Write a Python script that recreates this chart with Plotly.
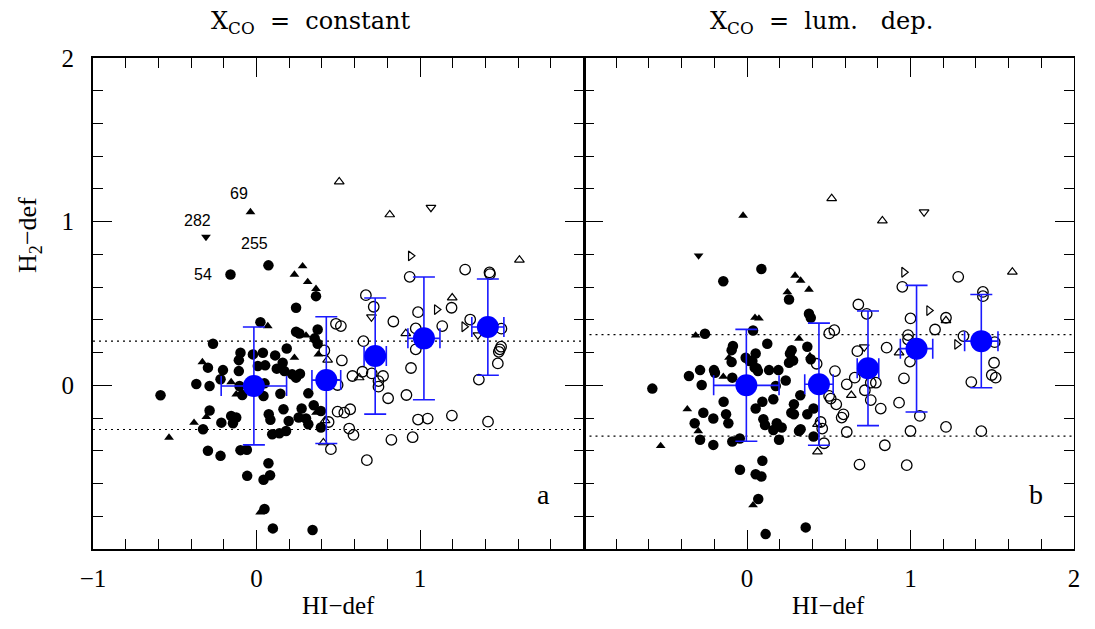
import plotly.graph_objects as go

# ---------------- Panel a : X_CO = constant ----------------
a_fc_x = [0.073,-0.159,0.364,0.242,0.024,0.242,0.262,0.374,0.356,0.374,-0.266,-0.098,-0.022,0.039,0.114,0.185,-0.108,0.008,0.053,0.16,0.124,0.171,-0.297,-0.205,-0.108,0.218,0.242,0.266,0.242,-0.22,-0.368,-0.287,-0.104,0.049,0.043,-0.087,0.146,0.317,-0.587,-0.287,0.165,0.276,0.35,0.394,0.075,-0.155,-0.124,0.085,-0.215,-0.144,0.197,0.258,0.303,0.317,-0.327,0.394,0.096,0.14,0.181,-0.297,-0.22,-0.098,-0.059,0.073,-0.057,0.043,0.083,0.049,0.1,0.343]
a_fc_y = [0.733,0.677,0.545,0.474,0.386,0.327,0.317,0.341,0.287,0.254,0.254,0.199,0.189,0.199,0.183,0.225,0.154,0.118,0.122,0.138,0.102,0.087,0.108,0.093,0.087,0.067,0.053,0.071,0.047,0.037,0.008,-0.004,-0.004,0.012,-0.065,-0.059,-0.051,-0.049,-0.061,-0.154,-0.146,-0.142,-0.122,-0.157,-0.177,-0.187,-0.197,-0.211,-0.228,-0.232,-0.218,-0.197,-0.203,-0.238,-0.268,-0.258,-0.299,-0.293,-0.279,-0.400,-0.431,-0.396,-0.394,-0.476,-0.553,-0.577,-0.549,-0.756,-0.874,-0.884]
a_ftu_x = [0.282,0.232,0.313,0.364,0.069,0.303,0.378,0.232,-0.331,-0.155,-0.124,-0.382,-0.307,0.364,-0.535,0.022,-0.037]
a_ftu_y = [0.728,0.677,0.632,0.590,0.362,0.305,0.189,0.169,0.142,0.020,-0.055,-0.228,-0.193,-0.167,-0.319,-0.776,1.059]
a_ftd_x = [-0.309]
a_ftd_y = [0.907]
a_oc_x = [1.276,1.425,1.428,0.937,0.669,0.717,1.193,0.988,0.837,0.486,0.516,1.307,1.136,0.974,1.498,0.654,0.974,1.496,1.488,1.482,0.415,0.522,1.476,0.945,0.648,0.587,0.705,0.774,1.360,0.746,0.746,0.496,0.805,0.917,0.496,0.537,0.573,0.988,1.047,1.195,1.416,0.441,0.567,0.593,0.825,0.955,0.675,0.455]
a_oc_y = [0.707,0.690,0.680,0.663,0.551,0.480,0.474,0.447,0.390,0.376,0.362,0.402,0.362,0.348,0.346,0.270,0.220,0.236,0.220,0.205,0.213,0.152,0.134,0.106,0.083,0.057,0.073,0.057,0.035,0.026,-0.008,0.002,-0.079,-0.059,-0.161,-0.167,-0.146,-0.209,-0.203,-0.185,-0.222,-0.224,-0.264,-0.303,-0.333,-0.317,-0.457,-0.390]
a_otu_x = [0.506,0.815,1.608,1.197,0.913,0.628,0.435,0.409,0.420]
a_otu_y = [1.244,1.043,0.766,0.535,0.317,0.047,0.155,-0.350,-0.215]
a_otd_x = [1.067,0.703,1.354]
a_otd_y = [1.087,0.417,0.307]
a_otr_x = [0.943,1.102,1.270]
a_otr_y = [0.791,0.463,0.358]
a_mean_x = [-0.016,0.427,0.726,1.024,1.415]
a_mean_y = [-0.004,0.032,0.179,0.287,0.356]
a_mean_xerr = [0.200,0.088,0.068,0.098,0.098]
a_mean_yerr = [0.360,0.387,0.355,0.375,0.294]
a_band = [0.27,-0.27]

# ---------------- Panel b : X_CO = lum. dep. ----------------
b_fc_x = [0.088,-0.145,0.257,0.379,0.390,-0.257,0.037,0.124,0.369,-0.086,-0.094,0.273,0.263,0.257,0.053,-0.008,0.033,0.390,-0.094,-0.287,-0.202,-0.196,0.059,0.135,0.192,-0.355,-0.277,0.237,-0.090,-0.579,0.176,0.326,0.161,0.094,-0.143,0.287,0.053,-0.267,-0.128,0.271,0.287,0.369,0.407,-0.206,-0.320,-0.114,0.100,0.110,0.182,0.212,0.161,0.328,0.318,0.407,-0.287,-0.206,-0.090,0.196,0.094,-0.043,0.053,0.088,0.069,0.359,0.114,0.016,0.047,0.067,0.282,-0.044]
b_fc_y = [0.711,0.636,0.524,0.437,0.413,0.315,0.335,0.254,0.236,0.240,0.215,0.215,0.195,0.138,0.195,0.169,0.148,0.159,0.142,0.093,0.093,0.077,0.104,0.093,0.093,0.057,0.002,0.030,0.047,-0.020,-0.004,-0.061,-0.085,-0.100,-0.100,-0.116,-0.142,-0.167,-0.177,-0.167,-0.177,-0.177,-0.142,-0.203,-0.232,-0.232,-0.207,-0.242,-0.232,-0.258,-0.273,-0.268,-0.279,-0.313,-0.333,-0.364,-0.343,-0.333,-0.461,-0.516,-0.543,-0.557,-0.695,-0.868,-0.909,0.148,0.108,0.087,0.152,-0.325]
b_ftu_x = [0.294,0.328,0.379,0.247,0.049,0.073,-0.314,0.318,-0.110,0.385,-0.145,-0.365,-0.298,-0.528,0.037,-0.024]
b_ftu_y = [0.671,0.640,0.585,0.569,0.413,0.409,0.305,0.285,0.169,0.179,0.053,-0.146,-0.279,-0.370,-0.732,1.037]
b_ftd_x = [-0.296]
b_ftd_y = [0.793]
b_oc_x = [1.292,0.950,1.443,1.443,0.681,0.732,1.217,1.000,1.150,0.534,0.503,0.985,0.985,1.324,1.515,0.854,0.675,0.997,0.538,0.659,1.511,1.497,1.521,1.372,0.960,0.610,0.721,0.757,0.788,0.502,0.512,0.757,0.546,0.930,0.818,0.590,0.579,1.057,0.450,0.460,0.610,1.000,1.217,1.433,0.471,0.843,0.688,0.977,0.426]
b_oc_y = [0.663,0.602,0.571,0.545,0.494,0.437,0.413,0.409,0.341,0.337,0.317,0.307,0.280,0.301,0.264,0.230,0.209,0.145,0.087,0.047,0.138,0.063,0.047,0.020,0.043,0.006,-0.030,0.016,0.016,-0.065,-0.081,-0.090,-0.116,-0.106,-0.142,-0.177,-0.197,-0.187,-0.224,-0.264,-0.285,-0.279,-0.254,-0.280,-0.354,-0.366,-0.484,-0.488,0.132]
b_otu_x = [0.518,0.828,1.623,1.217,0.930,0.638,0.431,0.431]
b_otu_y = [1.142,1.006,0.693,0.396,0.199,-0.061,-0.238,-0.406]
b_otd_x = [1.083,0.717]
b_otd_y = [1.059,0.234]
b_otr_x = [0.960,1.113,1.284]
b_otr_y = [0.691,0.457,0.250]
b_mean_x = [-0.004,0.440,0.740,1.037,1.433]
b_mean_y = [0.000,0.007,0.104,0.224,0.270]
b_mean_xerr = [0.200,0.087,0.066,0.099,0.102]
b_mean_yerr = [0.342,0.373,0.350,0.387,0.285]
b_band = [0.31,-0.31]

# labelled galaxies (panel a)
gal_names = ["69", "282", "255", "54"]
gal_x = [-0.11, -0.36, -0.01, -0.33]
gal_y = [1.17, 1.01, 0.865, 0.677]

a_xtickvals = [-1, 0, 1]
a_xticktext = ["\u22121", "0", "1"]
b_xtickvals = [0, 1, 2]
b_xticktext = ["0", "1", "2"]
y_tickvals = [0, 1, 2]
y_ticktext = ["0", "1", "2"]

SERIF = "Liberation Serif"
fig = go.Figure()

def add_panel(xa, ya, fc, ftu, ftd, oc, otu, otd, otr, mean):
    kw = dict(xaxis=xa, yaxis=ya, mode="markers", showlegend=False, hoverinfo="skip")
    fig.add_trace(go.Scatter(x=fc[0], y=fc[1], marker=dict(symbol="circle", size=10.5, color="black", line=dict(width=0)), **kw))
    fig.add_trace(go.Scatter(x=ftu[0], y=ftu[1], marker=dict(symbol="triangle-up", size=8.5, color="black", line=dict(width=0)), **kw))
    fig.add_trace(go.Scatter(x=ftd[0], y=ftd[1], marker=dict(symbol="triangle-down", size=8.5, color="black", line=dict(width=0)), **kw))
    fig.add_trace(go.Scatter(x=oc[0], y=oc[1], marker=dict(symbol="circle-open", size=10.5, color="black", line=dict(width=1.3)), **kw))
    fig.add_trace(go.Scatter(x=otu[0], y=otu[1], marker=dict(symbol="triangle-up-open", size=8.5, color="black", line=dict(width=1.2)), **kw))
    fig.add_trace(go.Scatter(x=otd[0], y=otd[1], marker=dict(symbol="triangle-down-open", size=8.5, color="black", line=dict(width=1.2)), **kw))
    fig.add_trace(go.Scatter(x=otr[0], y=otr[1], marker=dict(symbol="triangle-right-open", size=8.5, color="black", line=dict(width=1.2)), **kw))
    fig.add_trace(go.Scatter(
        x=mean[0], y=mean[1],
        error_x=dict(type="data", array=mean[2], color="#1a1aff", thickness=1.6, width=10),
        error_y=dict(type="data", array=mean[3], color="#1a1aff", thickness=1.6, width=11),
        marker=dict(symbol="circle", size=22, color="#0000ff", line=dict(width=0)), **kw))

add_panel("x", "y", (a_fc_x, a_fc_y), (a_ftu_x, a_ftu_y), (a_ftd_x, a_ftd_y), (a_oc_x, a_oc_y),
          (a_otu_x, a_otu_y), (a_otd_x, a_otd_y), (a_otr_x, a_otr_y),
          (a_mean_x, a_mean_y, a_mean_xerr, a_mean_yerr))
add_panel("x2", "y2", (b_fc_x, b_fc_y), (b_ftu_x, b_ftu_y), (b_ftd_x, b_ftd_y), (b_oc_x, b_oc_y),
          (b_otu_x, b_otu_y), (b_otd_x, b_otd_y), (b_otr_x, b_otr_y),
          (b_mean_x, b_mean_y, b_mean_xerr, b_mean_yerr))

shapes = []
for lvl in a_band:
    shapes.append(dict(type="line", xref="x", yref="y", x0=-1, x1=2, y0=lvl, y1=lvl,
                       line=dict(color="black", width=1.2, dash="2px,4px"), layer="below"))
for lvl in b_band:
    shapes.append(dict(type="line", xref="x2", yref="y2", x0=-1, x1=2, y0=lvl, y1=lvl,
                       line=dict(color="black", width=1.2, dash="2px,4px"), layer="below"))

MINOR = dict(tickmode="linear", tick0=-1, dtick=0.2, ticks="inside", ticklen=10,
             tickwidth=1.2, tickcolor="black", showgrid=False)

def xax(domain, tickvals, ticktext, anchor):
    return dict(domain=domain, range=[-1, 2], anchor=anchor, tickmode="array", tickvals=tickvals,
                ticktext=ticktext, ticks="inside", ticklen=19, tickwidth=1.3, tickcolor="black",
                showline=True, linewidth=2, linecolor="black", mirror="ticks", showgrid=False,
                zeroline=False, ticklabelstandoff=6,
                tickfont=dict(family=SERIF, size=25, color="black"), minor=MINOR)

def yax(anchor, showlabels, lw):
    return dict(domain=[0, 1], range=[-1, 2], anchor=anchor, tickmode="array", tickvals=y_tickvals,
                ticktext=y_ticktext, showticklabels=showlabels, ticks="inside", ticklen=19,
                tickwidth=1.3, tickcolor="black",
                showline=True, linewidth=lw, linecolor="black", mirror="ticks", showgrid=False,
                zeroline=False, ticklabelstandoff=12,
                tickfont=dict(family=SERIF, size=25, color="black"), minor=MINOR)

annotations = []
for name, gx, gy in zip(gal_names, gal_x, gal_y):
    annotations.append(dict(x=gx, y=gy, xref="x", yref="y", text=name, showarrow=False,
                            xanchor="center", yanchor="middle",
                            font=dict(family="Liberation Sans", size=16, color="black")))
annotations += [
    dict(x=1.756, y=-0.665, xref="x", yref="y", text="a", showarrow=False,
         xanchor="center", yanchor="middle", font=dict(family=SERIF, size=28, color="black")),
    dict(x=1.768, y=-0.665, xref="x2", yref="y2", text="b", showarrow=False,
         xanchor="center", yanchor="middle", font=dict(family=SERIF, size=28, color="black")),
    dict(x=0.222, y=1.072, xref="paper", yref="paper", text="X<sub>CO</sub>  =  constant",
         xanchor="center", yanchor="middle", showarrow=False,
         font=dict(family="DejaVu Serif", size=24, color="black")),
    dict(x=0.743, y=1.072, xref="paper", yref="paper", text="X<sub>CO</sub>  =  lum.   dep.",
         xanchor="center", yanchor="middle", showarrow=False,
         font=dict(family="DejaVu Serif", size=24, color="black")),
    dict(x=0.25, y=-0.116, xref="paper", yref="paper", text="HI\u2212def",
         xanchor="center", yanchor="middle", showarrow=False,
         font=dict(family=SERIF, size=25, color="black")),
    dict(x=0.75, y=-0.116, xref="paper", yref="paper", text="HI\u2212def",
         xanchor="center", yanchor="middle", showarrow=False,
         font=dict(family=SERIF, size=25, color="black")),
    dict(x=-0.065, y=0.64, xref="paper", yref="paper", text="H<sub>2</sub>\u2212def", textangle=-90,
         xanchor="center", yanchor="middle", showarrow=False,
         font=dict(family=SERIF, size=26, color="black")),
]

# page body has an 8px margin: size the figure to fit inside the window
fig.update_layout(
    width=1084, height=613,
    margin=dict(l=85, r=12, t=50, b=72),
    paper_bgcolor="white", plot_bgcolor="white",
    xaxis=xax([0, 0.5], a_xtickvals, a_xticktext, "y"),
    xaxis2=xax([0.5, 1], b_xtickvals, b_xticktext, "y2"),
    yaxis=yax("x", True, 2),
    yaxis2=yax("x2", False, 1.2),
    shapes=shapes, annotations=annotations,
)
fig.write_html("out.html")
